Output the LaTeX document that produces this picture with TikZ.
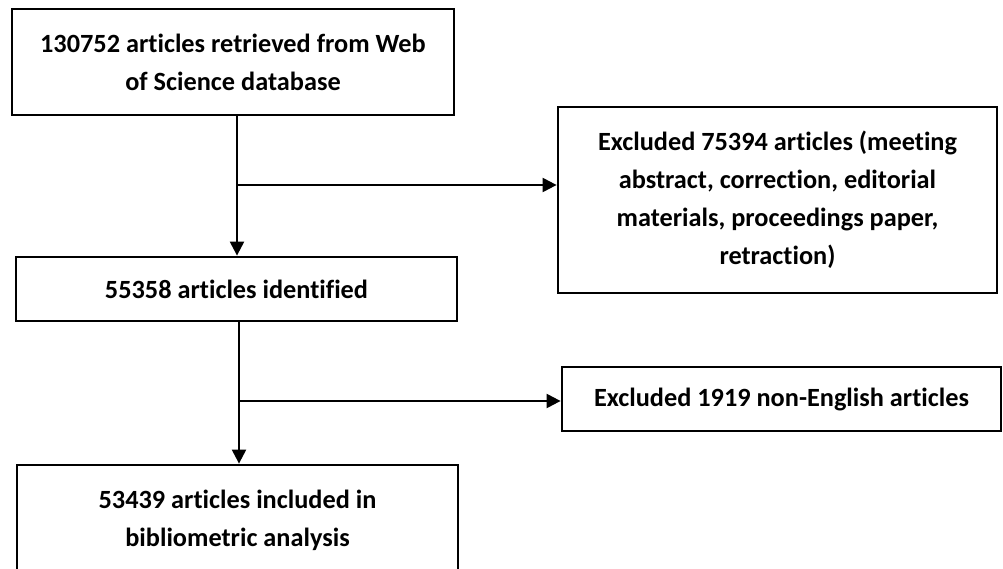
\documentclass[tikz,border=0pt]{standalone}
\usepackage{fontspec}
\setmainfont{Carlito}[Ligatures=NoCommon]
\usetikzlibrary{arrows.meta}
\tikzset{
  box/.style={draw, line width=2.8pt, align=center, inner sep=0pt,
    font=\fontsize{26.3}{38}\selectfont\bfseries},
  conn/.style={line width=2.2pt},
  arr/.style={conn, -{Triangle[length=14pt,width=14pt]}}
}
\begin{document}
\begin{tikzpicture}[x=1pt,y=-1pt]
\useasboundingbox (0,0) rectangle (1003,569);
\node[box, minimum width=442pt, minimum height=106pt] (b1) at (233,62)
  {130752 articles retrieved from Web\\of Science database};
\node[box, minimum width=439pt, minimum height=186pt] (b2) at (777.5,200)
  {Excluded 75394 articles (meeting\\abstract, correction, editorial\\materials, proceedings paper,\\retraction)};
\node[box, minimum width=441pt, minimum height=64pt] (b3) at (236.5,289)
  {55358 articles identified};
\node[box, minimum width=439pt, minimum height=64pt] (b4) at (781.5,399)
  {Excluded 1919 non-English articles};
\node[box, minimum width=441pt, minimum height=110pt] (b5) at (237.5,520)
  {53439 articles included in\\bibliometric analysis};
\coordinate (j1) at (237,185);
\coordinate (j2) at (239,401);
\draw[arr] (b1.south -| j1) -- (b3.north -| j1);
\draw[arr] (j1) -- (j1 -| b2.west);
\draw[arr] (b3.south -| j2) -- (b5.north -| j2);
\draw[arr] (j2) -- (j2 -| b4.west);
\end{tikzpicture}
\end{document}
